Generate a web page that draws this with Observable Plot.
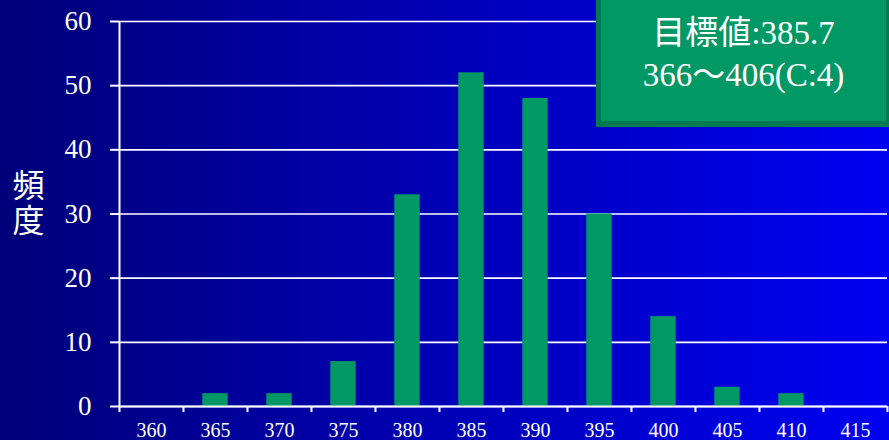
<!DOCTYPE html>
<html><head><meta charset="utf-8">
<script src="https://cdn.jsdelivr.net/npm/d3@7"></script>
<script src="https://cdn.jsdelivr.net/npm/@observablehq/plot@0.6"></script>
<style>
html,body{margin:0;padding:0;}
body{width:889px;height:440px;overflow:hidden;position:relative;
  background:linear-gradient(to right,#00007a,#0000f2);
  font-family:"Liberation Serif","Noto Sans CJK JP",serif;}
#chart{position:absolute;left:0;top:0;}
#chart svg g[aria-label^="y-axis"] text,#chart svg g[aria-label^="x-axis"] text{font-family:"Liberation Serif",serif !important;font-weight:normal;stroke:none;}
#box{position:absolute;left:596px;top:0;width:285px;height:109px;
  background:#009966;border-left:5px solid #007a50;border-bottom:6px solid #007a50;border-right:3px solid #007a50;
  color:white;text-align:center;font-size:33px;line-height:42px;padding-top:12px;box-sizing:content-box;}
#box div{white-space:nowrap;}
</style>
</head><body>
<div id="chart"></div>
<div id="box"></div>
<script>
const bins = [360,365,370,375,380,385,390,395,400,405,410,415];
const counts = [0,2,2,7,33,52,48,30,14,3,2,0];
const yTicks = [0,10,20,30,40,50,60];
const yLabel = "頻度";
const boxLines = ["目標値:385.7","366～406(C:4)"];

const data = bins.map((b,i)=>({bin:b,count:counts[i]}));
const half = (bins[1]-bins[0])/2;
const edges = bins.map(b=>b-half).concat([bins[bins.length-1]+half]);

const chart = Plot.plot({
  width: 889, height: 440,
  marginLeft: 119, marginRight: 2, marginTop: 21, marginBottom: 34,
  style: {background:"transparent", color:"white", fontFamily:"Liberation Serif"},
  x: {type:"linear", domain:[edges[0], edges[edges.length-1]]},
  y: {domain:[0,60]},
  marks: [
    Plot.gridY(yTicks, {stroke:"white", strokeOpacity:1, strokeWidth:1.6}),
    Plot.rect(data, {x1: d=>d.bin-half, x2: d=>d.bin+half, y1: 0, y2: "count",
      insetLeft:19.3, insetRight:19.3, fill:"#009966"}),
    Plot.ruleY([0], {stroke:"white", strokeWidth:2}),
    Plot.ruleX([edges[0]], {stroke:"white", strokeWidth:2}),
    Plot.axisY(yTicks, {tickSize:9, tickPadding:19, fontSize:27, label:null, fontFamily:"Liberation Serif"}),
    Plot.axisX(edges, {tickSize:6, tickFormat:()=>"", label:null}),
    Plot.axisX(bins, {tickSize:0, tickPadding:16, fontSize:20, label:null, tickFormat:d=>String(d), fontFamily:"Liberation Serif"}),
    Plot.text([yLabel], {frameAnchor:"left", dx:-91, dy:-20, fontSize:32, className:"ylabel",
      fontFamily:"Noto Sans CJK JP", fill:"white", textAnchor:"middle"})
  ]
});
document.getElementById("chart").appendChild(chart);
chart.querySelectorAll('g[aria-label^="y-axis tick"], g[aria-label^="x-axis tick"]').forEach(g=>{ if(!g.querySelector("text")) g.setAttribute("stroke-width","2"); });
chart.querySelectorAll("text").forEach(t=>{
  if (t.textContent === yLabel) {
    t.style.writingMode = "vertical-rl";
    t.setAttribute("dy","0");
    t.style.letterSpacing = "3px";
  }
});
const box = document.getElementById("box");
boxLines.forEach(t=>{const d=document.createElement("div");d.textContent=t;box.appendChild(d);});
</script>
</body></html>
